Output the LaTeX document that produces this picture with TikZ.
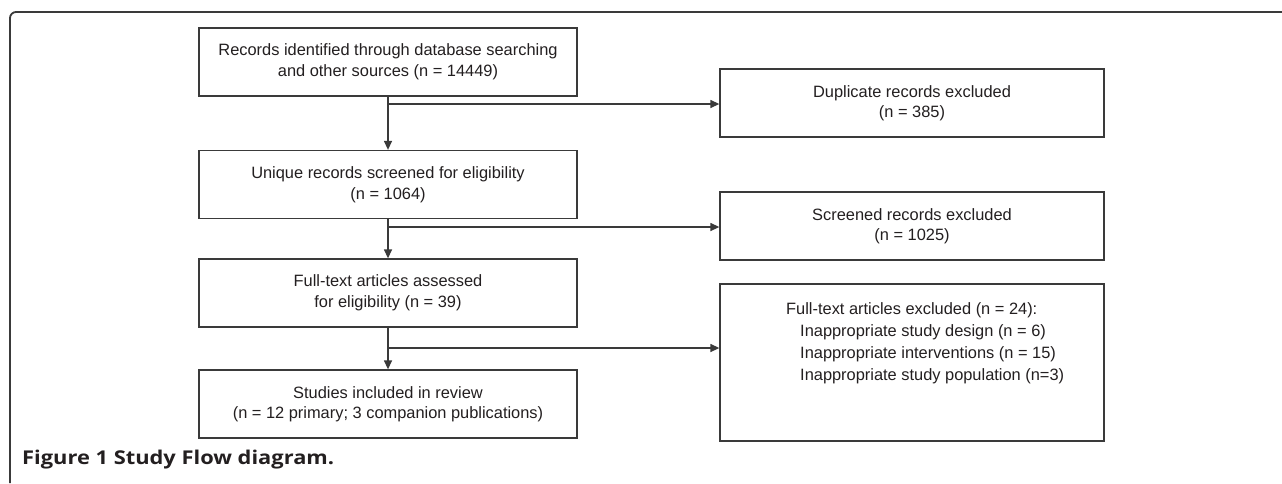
\documentclass[tikz,border=0pt]{standalone}
\usepackage{fontspec}
\setmainfont{Liberation Sans}
\newfontfamily\capfont[FakeStretch=1.15]{Open Sans}
\usetikzlibrary{arrows.meta}
\definecolor{ink}{HTML}{231F20}
\definecolor{edge}{HTML}{3A3A3A}
\begin{document}
\begin{tikzpicture}[x=1pt,y=-1pt,
  box/.style={draw=edge, line width=1.3pt, inner sep=0pt, text=ink, align=center, font=\fontsize{16.4}{20.5}\selectfont},
  lbox/.style={box, minimum width=378pt, minimum height=68pt},
  rbox/.style={box, minimum width=384pt, minimum height=68pt},
  arr/.style={draw=edge, line width=1.3pt, -{Triangle[length=9pt,width=8pt]}},
  txt/.style={text=ink, inner sep=0pt, font=\fontsize{16.4}{20}\selectfont, anchor=base west}]
\useasboundingbox (0,0) rectangle (1282,483);
\fill[white] (0,0) rectangle (1282,483);
\draw[edge, line width=1.8pt, rounded corners=6pt] (10,483) -- (10,12) -- (1282,12);

% left column
\node[lbox] (b1) at (388,62) {Records identified through database searching\\and other sources (n = 14449)};
\node[lbox] (b2) at (388,184.5) {Unique records screened for eligibility\\(n = 1064)};
\node[lbox] (b3) at (388,293) {Full-text articles assessed\\for eligibility (n = 39)};
\node[lbox] (b4) at (388,404) {Studies included in review\\(n = 12 primary; 3 companion publications)};

% right column
\node[rbox] (r1) at (912,103) {Duplicate records excluded\\(n = 385)};
\node[rbox] (r2) at (912,226) {Screened records excluded\\(n = 1025)};
\node[rbox, minimum height=157pt] (r3) at (912,362.5) {};
\node[txt] (t1) at (786,314) {Full-text articles excluded (n = 24):};
\node[txt] (t2) at (800,336) {Inappropriate study design (n = 6)};
\node[txt] (t3) at (800,358) {Inappropriate interventions (n = 15)};
\node[txt] (t4) at (800,380) {Inappropriate study population (n=3)};

% connectors
\coordinate (j1) at (388,104);
\coordinate (j2) at (388,227);
\coordinate (j3) at (388,348);
\draw[arr] (b1.south) -- (b2.north);
\draw[arr] (b2.south) -- (b3.north);
\draw[arr] (b3.south) -- (b4.north);
\draw[arr] (j1) -- (j1 -| r1.west);
\draw[arr] (j2) -- (j2 -| r2.west);
\draw[arr] (j3) -- (j3 -| r3.west);

% caption
\node[anchor=base west, inner sep=0pt, text=ink, font=\capfont\bfseries\fontsize{19}{22}\selectfont] (cap) at (22,464) {Figure 1 Study Flow diagram.};
\end{tikzpicture}
\end{document}
